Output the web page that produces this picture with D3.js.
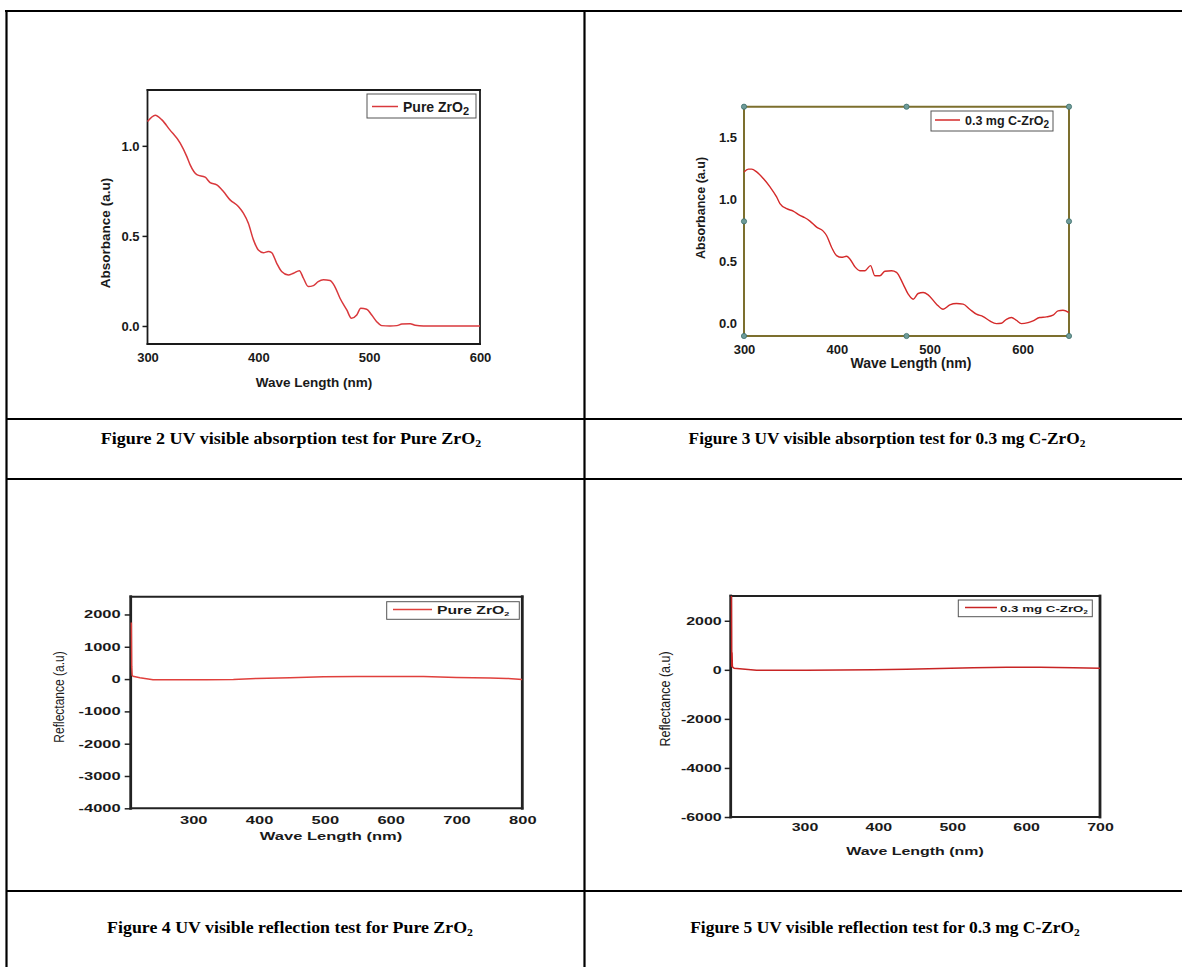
<!DOCTYPE html>
<html><head><meta charset="utf-8">
<script src="https://cdn.jsdelivr.net/npm/d3@7"></script>
<style>body{margin:0;background:#fff}svg{display:block}</style>
</head><body>
<script>
// ---------- DATA ----------
const absPureWave = [300,307,313,320,329.5,335.5,338.5,344.5,352,356.5,362.5,368.5,374.5,382,386.5,391,395.6,400,404.6,409,412,416.6,421,427,431.7,437,440.7,445,449.7,454,458.7,464.7,469,473.7,479.8,484,488.8,492.4,497.8,502.3,506.8,511.3,518.8,525,529.5,537,541.5,549,600];
const absPureVal  = [1.135,1.17,1.144,1.09,1.015,0.94,0.894,0.84,0.826,0.796,0.783,0.746,0.70,0.663,0.626,0.57,0.478,0.422,0.407,0.413,0.407,0.348,0.302,0.283,0.293,0.307,0.265,0.219,0.224,0.246,0.256,0.252,0.219,0.154,0.089,0.043,0.061,0.098,0.093,0.061,0.024,0.002,0,0.002,0.011,0.013,0.004,0,0];

const absCWave = [300,304.7,308.2,313.6,320.8,328,335.1,338.7,345.9,353,360.2,365.6,371,378.2,385.3,388.9,394.3,399.7,405.1,410.4,414,419.4,424.8,430.2,436.3,440.9,446.3,451.7,458.9,464.2,471.4,476.8,482.2,487.5,492.9,498.3,507.3,514.4,521.6,528.8,536,543.1,550.3,557.5,564.6,571.8,577.2,582.6,588,593.3,598.7,605.9,611.3,618.4,625.6,632.8,638.2,643.5,650];
const absCVal  = [1.224,1.246,1.246,1.224,1.17,1.103,1.022,0.968,0.927,0.908,0.873,0.854,0.827,0.778,0.746,0.711,0.616,0.549,0.535,0.543,0.522,0.459,0.427,0.427,0.468,0.386,0.386,0.422,0.427,0.414,0.319,0.238,0.197,0.243,0.251,0.232,0.157,0.116,0.151,0.162,0.157,0.116,0.076,0.057,0.022,0,0.003,0.035,0.049,0.027,0,0.008,0.022,0.049,0.054,0.068,0.103,0.108,0.089];

const refPureWave = [206,206.5,207.2,208.5,219,239,270,320,361,396,447,498,548,599,650,700,751,776,800];
const refPureVal  = [1750,400,120,90,41,-21,-21,-21,-10,21,41,72,82,82,82,52,31,21,-10];

const refCWave = [201,201.4,201.8,202.3,204.5,235,303,393,438,483,528.5,573.7,618.8,664,700];
const refCVal  = [3200,150,700,120,68,-14,-14,0,27,54,81,108,108,81,68];

const absXTicks1 = [300,400,500,600];
const absYTicks1 = [0,0.5,1.0];
const absXTicks2 = [300,400,500,600];
const absYTicks2 = [0,0.5,1.0,1.5];
const refXTicks = [300,400,500,600,700,800];
const refYTicks1 = [-4000,-3000,-2000,-1000,0,1000,2000];
const refXTicks2 = [300,400,500,600,700];
const refYTicks2 = [-6000,-4000,-2000,0,2000];

const legendMain = ['Pure ZrO','0.3 mg C-ZrO','Pure ZrO','0.3 mg C-ZrO'];
const legendSub = ['2','2','2','2'];
const captionMain = ['Figure 2 UV visible absorption test for Pure ZrO','Figure 3 UV visible absorption test for 0.3 mg C-ZrO','Figure 4 UV visible reflection test for Pure ZrO','Figure 5 UV visible reflection test for 0.3 mg C-ZrO'];
const captionSub = ['2','2','2','2'];
const xTitle = 'Wave Length (nm)';
const yTitles = ['Absorbance (a.u)','Absorbance (a.u)','Reflectance (a.u)','Reflectance (a.u)'];

// ---------- DRAW ----------
const svg = d3.select('body').append('svg').attr('width',1182).attr('height',967);
const FONT = '"Liberation Sans", Arial, sans-serif';
const plainNum = d => String(d);   // hyphen-minus like the original

// table grid
const grid = [[5,11,1182,11],[6.5,10,6.5,967],[584.5,10,584.5,967],[6,419,1182,419],[6,479,1182,479],[6,891,1182,891]];
svg.append('g').selectAll('line').data(grid).join('line')
  .attr('x1',d=>d[0]).attr('y1',d=>d[1]).attr('x2',d=>d[2]).attr('y2',d=>d[3])
  .attr('stroke','#000').attr('stroke-width',2.2);

function stretchTexts(sel, sx){
  if (sx === 1) return;
  sel.each(function(){
    const t = d3.select(this);
    const xx = +(t.attr('x')||0);
    t.attr('x', xx/sx).attr('transform', `scale(${sx},1)`);
  });
}

function panel(o){
  const g = svg.append('g');
  const x = d3.scaleLinear().domain(o.xDomain).range([o.left,o.right]);
  const y = d3.scaleLinear().domain(o.yDomain).range([o.bottom,o.top]);
  const cid = 'clip'+o.id;
  svg.append('clipPath').attr('id',cid).append('rect')
    .attr('x',o.left-2).attr('y',o.top).attr('width',o.right-o.left+2).attr('height',o.bottom-o.top);

  const ya = g.append('g').attr('transform',`translate(${o.left},0)`)
    .call(d3.axisLeft(y).tickValues(o.yTicks).tickFormat(o.yFmt).tickSize(o.yTickSize).tickPadding(o.yPad).tickSizeOuter(0));
  const xa = g.append('g').attr('transform',`translate(0,${o.bottom})`)
    .call(d3.axisBottom(x).tickValues(o.xTicks).tickFormat(plainNum).tickSize(o.xTickSize).tickPadding(o.xPad).tickSizeOuter(0));
  [ya,xa].forEach(a=>{
    a.select('.domain').remove();
    a.selectAll('line').attr('stroke',o.tickColor).attr('stroke-width',o.tickWidth);
    a.selectAll('text').attr('font-family',FONT).attr('font-weight','bold')
      .attr('font-size',o.tickFont).attr('fill','#1a1a1a');
    stretchTexts(a.selectAll('text'), o.sx);
  });

  // frame
  const fr = g.append('g').attr('stroke',o.frameColor).attr('stroke-linecap','square');
  fr.append('line').attr('x1',o.left).attr('x2',o.right).attr('y1',o.top).attr('y2',o.top).attr('stroke-width',o.frameH);
  fr.append('line').attr('x1',o.left).attr('x2',o.right).attr('y1',o.bottom).attr('y2',o.bottom).attr('stroke-width',o.frameH);
  fr.append('line').attr('x1',o.left).attr('x2',o.left).attr('y1',o.top).attr('y2',o.bottom).attr('stroke-width',o.frameV);
  fr.append('line').attr('x1',o.right).attr('x2',o.right).attr('y1',o.top).attr('y2',o.bottom).attr('stroke-width',o.frameV);

  // data line (drawn over the frame, as in the original)
  const data = o.waves.map((w,i)=>[w,o.vals[i]]);
  g.append('path').datum(data).attr('clip-path',`url(#${cid})`)
    .attr('fill','none').attr('stroke',o.lineColor).attr('stroke-width',o.lineWidth)
    .attr('stroke-linejoin','round')
    .attr('d', d3.line().x(d=>x(d[0])).y(d=>y(d[1])).curve(o.curve));

  if (o.handles){
    const mx=(o.left+o.right)/2, my=(o.top+o.bottom)/2;
    const hp=[[o.left,o.top],[mx,o.top],[o.right,o.top],[o.left,my],[o.right,my],[o.left,o.bottom],[mx,o.bottom],[o.right,o.bottom]];
    g.append('g').selectAll('circle').data(hp).join('circle')
      .attr('cx',d=>d[0]).attr('cy',d=>d[1]).attr('r',2.6)
      .attr('fill','#6f9c9a').attr('stroke','#3d6e6c').attr('stroke-width',0.8);
  }

  // x title
  g.append('text').attr('transform',`translate(${o.xtX},${o.xtY}) scale(${o.sx},1)`)
    .attr('text-anchor','middle').attr('font-family',FONT).attr('font-weight','bold')
    .attr('font-size',o.xtFont).attr('fill','#1a1a1a').text(o.xTitle);
  // y title
  g.append('text').attr('transform',`translate(${o.ytX},${o.ytY}) scale(${o.ysx},1) rotate(-90)`)
    .attr('text-anchor','middle').attr('font-family',FONT).attr('font-weight',o.ytWeight)
    .attr('font-size',o.ytFont).attr('fill','#1a1a1a').text(o.yTitle);

  // legend
  const L = o.legend;
  g.append('rect').attr('x',L.x0).attr('y',L.y0).attr('width',L.x1-L.x0).attr('height',L.y1-L.y0)
    .attr('fill','#fff').attr('stroke','#555').attr('stroke-width',1);
  g.append('line').attr('x1',L.lx0).attr('x2',L.lx1).attr('y1',L.ly).attr('y2',L.ly)
    .attr('stroke',o.lineColor).attr('stroke-width',1.5);
  const lt = g.append('text').attr('transform',`translate(${L.tx},${L.ty}) scale(${L.sx},1)`)
    .attr('font-family',FONT).attr('font-weight','bold').attr('font-size',L.font).attr('fill','#1a1a1a');
  lt.append('tspan').text(o.legendMain);
  lt.append('tspan').attr('font-size',L.subFont).attr('dy',L.subDy).text(o.legendSub);
}

panel({id:1, left:147.5, right:480, top:90, bottom:344,
  xDomain:[300,600], yDomain:[-0.1,1.31], xTicks:absXTicks1, yTicks:absYTicks1, yFmt:d3.format('.1f'),
  waves:absPureWave, vals:absPureVal, lineColor:'#d9383c', lineWidth:1.5, curve:d3.curveMonotoneX,
  yTickSize:5, yPad:3, xTickSize:0, xPad:9, tickColor:'#1a1a1a', tickWidth:1.5, tickFont:13, sx:1,
  frameColor:'#1a1a1a', frameH:1.8, frameV:1.8, handles:false,
  xTitle:xTitle, xtX:314, xtY:387, xtFont:13.5,
  yTitle:yTitles[0], ytX:110, ytY:233, ysx:1, ytFont:13.5, ytWeight:'bold',
  legend:{x0:367,x1:476,y0:94,y1:118,lx0:372,lx1:398,ly:106.5,tx:403,ty:111.5,font:14,subFont:11,subDy:3,sx:1},
  legendMain:legendMain[0], legendSub:legendSub[0]});

panel({id:2, left:744, right:1069, top:106.7, bottom:336,
  xDomain:[300,650], yDomain:[-0.1,1.75], xTicks:absXTicks2, yTicks:absYTicks2, yFmt:d3.format('.1f'),
  waves:absCWave, vals:absCVal, lineColor:'#d42a2a', lineWidth:1.4, curve:d3.curveMonotoneX,
  yTickSize:0, yPad:7, xTickSize:0, xPad:9, tickColor:'#7c6f2e', tickWidth:1, tickFont:13, sx:1,
  frameColor:'#7c6f2e', frameH:2, frameV:2, handles:true,
  xTitle:xTitle, xtX:911, xtY:368, xtFont:14,
  yTitle:yTitles[1], ytX:705, ytY:208, ysx:1, ytFont:12.5, ytWeight:'bold',
  legend:{x0:931,x1:1053,y0:111,y1:131,lx0:935,lx1:960,ly:120,tx:965,ty:124.5,font:12.5,subFont:10,subDy:3,sx:1},
  legendMain:legendMain[1], legendSub:legendSub[1]});

panel({id:3, left:130.7, right:522.3, top:596.7, bottom:808.3,
  xDomain:[205,800], yDomain:[-4000,2550], xTicks:refXTicks, yTicks:refYTicks1, yFmt:plainNum,
  waves:refPureWave, vals:refPureVal, lineColor:'#e0403c', lineWidth:1.5, curve:d3.curveLinear,
  yTickSize:6, yPad:4, xTickSize:0, xPad:8, tickColor:'#222', tickWidth:1.5, tickFont:11, sx:1.5,
  frameColor:'#222', frameH:2, frameV:2.8, handles:false,
  xTitle:xTitle, xtX:331, xtY:840, xtFont:11,
  yTitle:yTitles[2], ytX:64, ytY:697, ysx:1.15, ytFont:12, ytWeight:'normal',
  legend:{x0:386.7,x1:519.3,y0:601.7,y1:619.3,lx0:393,lx1:432,ly:609.5,tx:437,ty:613.5,font:10.5,subFont:6,subDy:2,sx:1.5},
  legendMain:legendMain[2], legendSub:legendSub[2]});

panel({id:4, left:730.7, right:1100, top:596, bottom:817,
  xDomain:[200,700], yDomain:[-6000,3010], xTicks:refXTicks2, yTicks:refYTicks2, yFmt:plainNum,
  waves:refCWave, vals:refCVal, lineColor:'#c82424', lineWidth:1.5, curve:d3.curveLinear,
  yTickSize:6, yPad:3, xTickSize:0, xPad:6, tickColor:'#222', tickWidth:1.5, tickFont:11, sx:1.45,
  frameColor:'#222', frameH:2, frameV:2.8, handles:false,
  xTitle:xTitle, xtX:915, xtY:855, xtFont:11,
  yTitle:yTitles[3], ytX:670, ytY:699, ysx:1.15, ytFont:12.5, ytWeight:'normal',
  legend:{x0:958.3,x1:1092.3,y0:600,y1:616.7,lx0:965,lx1:997,ly:607.5,tx:1000,ty:611.5,font:9.5,subFont:5.5,subDy:2,sx:1.4},
  legendMain:legendMain[3], legendSub:legendSub[3]});

// captions
const capPos = [[291,444,381],[887,444,397],[290,933,366],[885,933,390]];
captionMain.forEach((c,i)=>{
  const [cx,cy,w] = capPos[i];
  const t = svg.append('text').attr('font-family','"Liberation Serif","Times New Roman",serif')
    .attr('font-weight','bold').attr('font-size',16).attr('fill','#000').attr('text-anchor','middle');
  t.append('tspan').text(c);
  t.append('tspan').attr('font-size',10.5).attr('dy',3).text(captionSub[i]);
  const nat = t.node().getComputedTextLength();
  const s = w/nat;
  t.attr('transform',`translate(${cx},${cy}) scale(${s},1)`);
});
</script>
</body></html>
